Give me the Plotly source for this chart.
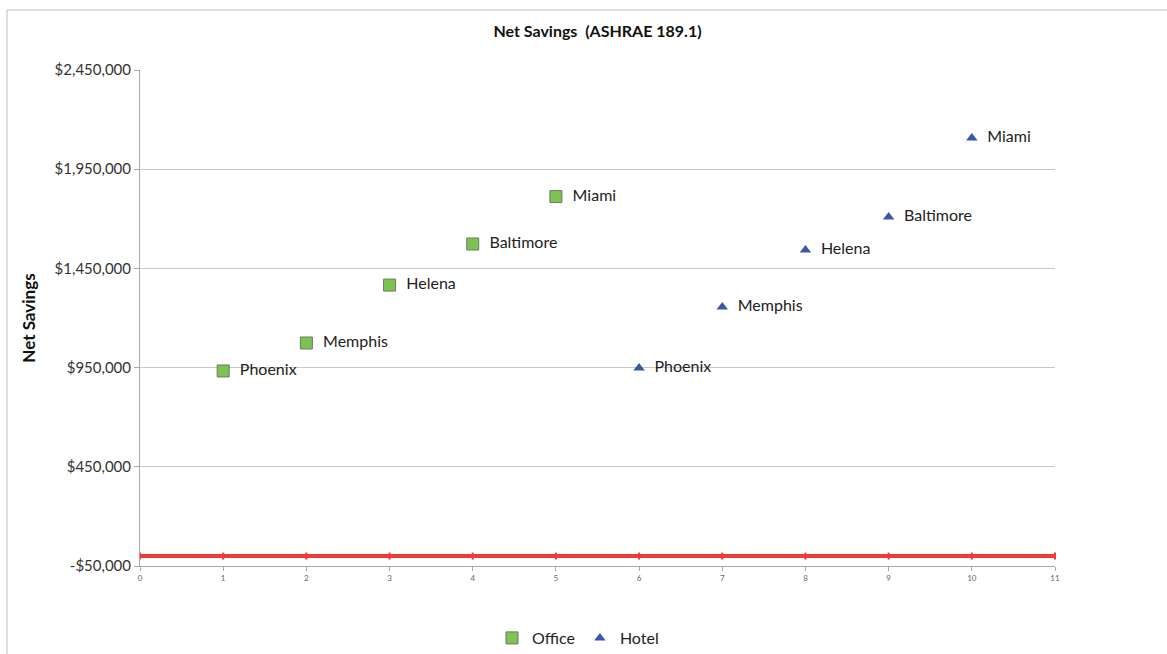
import plotly.graph_objects as go

# Net savings by building type and city
cities = ["Phoenix", "Memphis", "Helena", "Baltimore", "Miami"]
office_x = [1, 2, 3, 4, 5]
office_savings = [933000, 1074000, 1366000, 1573000, 1812000]
hotel_x = [6, 7, 8, 9, 10]
hotel_savings = [948000, 1255000, 1543000, 1709000, 2107000]

# Break-even reference line
zero_x = list(range(0, 12))
zero_y = [0] * len(zero_x)

y_ticks = [-50000, 450000, 950000, 1450000, 1950000, 2450000]
y_ticktext = [("-$" if v < 0 else "$") + f"{abs(v):,}" for v in y_ticks]

W, H = 1167, 654
L, R, T, B = 140, 112, 70, 88
pw, ph = W - L - R, H - T - B


def px_to_paper_y(py):
    return (H - B - py) / ph


def px_to_paper_x(px):
    return (px - L) / pw


font_family = "Lato, 'Open Sans', sans-serif"

fig = go.Figure()

fig.add_trace(go.Scatter(
    x=zero_x, y=zero_y, mode="lines+markers",
    line=dict(color="#EE3B35", width=4),
    marker=dict(symbol="line-ns", size=5, line=dict(color="#EE3B35", width=2)),
    showlegend=False, hoverinfo="skip", cliponaxis=False,
))

fig.add_trace(go.Scatter(
    x=office_x, y=office_savings, mode="markers+text", name="Office",
    text=cities, texttemplate="  %{text}", textposition="middle right",
    textfont=dict(family=font_family, size=16, color="#222222"),
    marker=dict(symbol="square", size=12, color="#7DC352",
                line=dict(color="#6A7A60", width=1)),
))

fig.add_trace(go.Scatter(
    x=hotel_x, y=hotel_savings, mode="markers+text", name="Hotel",
    text=cities, texttemplate="  %{text}", textposition="middle right",
    textfont=dict(family=font_family, size=16, color="#222222"),
    marker=dict(symbol="triangle-up", size=10, color="#3B57A8",
                line=dict(color="#3B57A8", width=0)),
))

# Outer chart frame
fig.add_shape(
    type="rect", xref="paper", yref="paper",
    x0=px_to_paper_x(7), x1=px_to_paper_x(1200),
    y0=px_to_paper_y(700), y1=px_to_paper_y(10),
    line=dict(color="#BDBDBD", width=1), fillcolor="rgba(0,0,0,0)",
    layer="below",
)

fig.update_layout(
    width=W, height=H,
    margin=dict(l=L, r=R, t=T, b=B, autoexpand=False),
    paper_bgcolor="white", plot_bgcolor="white",
    font=dict(family=font_family, color="#222222"),
    title=dict(text="<b>Net Savings  (ASHRAE 189.1)</b>", x=0.5, xanchor="center",
               xref="paper", y=1 - 31 / H, yanchor="middle",
               font=dict(size=16, color="#111111")),
    legend=dict(orientation="h", x=px_to_paper_x(578), xanchor="center",
                y=px_to_paper_y(638), yanchor="middle",
                font=dict(size=16, color="#222222"),
                bgcolor="rgba(0,0,0,0)", itemwidth=30, tracegroupgap=0),
    showlegend=True,
)

fig.update_xaxes(
    range=[0, 11], tickmode="linear", tick0=0, dtick=1,
    showgrid=False, zeroline=False,
    showline=True, linecolor="#A8A8A8", linewidth=1,
    ticks="outside", ticklen=4, tickcolor="#A8A8A8",
    tickfont=dict(size=8, color="#666666"),
)

fig.update_yaxes(
    range=[-50000, 2450000], tickvals=y_ticks, ticktext=y_ticktext,
    showgrid=True, gridcolor="#C8C8C8", gridwidth=1, zeroline=False,
    showline=True, linecolor="#A8A8A8", linewidth=1,
    ticks="outside", ticklen=5, tickcolor="#A8A8A8",
    tickfont=dict(size=15, color="#333333"),
    title=dict(text="<b>Net Savings</b>", font=dict(size=17, color="#111111"), standoff=14),
)

fig.write_html("out.html")
